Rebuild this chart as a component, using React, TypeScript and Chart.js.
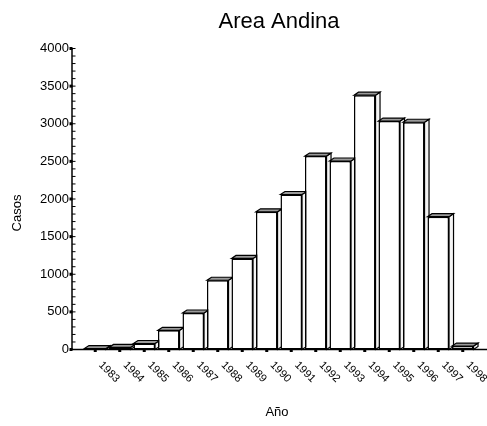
import React, { useEffect, useRef } from "react";
import { Chart, registerables } from "chart.js";

Chart.register(...registerables);

// ---- data ----
const years = ["1983", "1984", "1985", "1986", "1987", "1988", "1989", "1990", "1991", "1992", "1993", "1994", "1995", "1996", "1997", "1998"];
const casos = [12, 28, 80, 255, 485, 920, 1210, 1830, 2060, 2570, 2505, 3380, 3035, 3020, 1765, 45];
const yMin = 0;
const yMax = 4000;
const yStep = 500;
const yMinorStep = 100;
const chartTitle = "Area Andina";
const xTitle = "Año";
const yTitle = "Casos";

const FONT = '"Liberation Sans", Arial, Helvetica, sans-serif';
const DX = 4.5;
const DY = 3;

const plugin3d = {
  id: "plugin3d",
  beforeDatasetsDraw(chart: any) {
    const ctx = chart.ctx;
    const meta = chart.getDatasetMeta(0);
    ctx.save();
    ctx.lineWidth = 1.2;
    ctx.strokeStyle = "#000";
    meta.data.forEach((bar: any) => {
      const { x, y, base, width } = bar.getProps(["x", "y", "base", "width"], true);
      const l = x - width / 2;
      const r = x + width / 2;
      // side face
      ctx.beginPath();
      ctx.moveTo(r, base);
      ctx.lineTo(r + DX, base - DY);
      ctx.lineTo(r + DX, y - DY);
      ctx.lineTo(r, y);
      ctx.closePath();
      ctx.fillStyle = "#f4f4f4";
      ctx.fill();
      ctx.stroke();
      // top face
      ctx.beginPath();
      ctx.moveTo(l, y);
      ctx.lineTo(l + DX, y - DY);
      ctx.lineTo(r + DX, y - DY);
      ctx.lineTo(r, y);
      ctx.closePath();
      ctx.fillStyle = "#9a9a9a";
      ctx.fill();
      ctx.stroke();
    });
    ctx.restore();
  },
  afterDraw(chart: any) {
    const ctx = chart.ctx;
    const area = chart.chartArea;
    const xs = chart.scales.x;
    const ys = chart.scales.y;
    const axisX = area.left - 11;
    const axisY = area.bottom;
    const midX = (area.left + area.right) / 2;
    ctx.save();
    ctx.strokeStyle = "#000";
    ctx.fillStyle = "#000";
    ctx.lineWidth = 1.5;
    // y axis line
    ctx.beginPath();
    ctx.moveTo(axisX, ys.getPixelForValue(yMax));
    ctx.lineTo(axisX, axisY);
    ctx.stroke();
    // x axis line
    ctx.beginPath();
    ctx.moveTo(axisX, axisY);
    ctx.lineTo(chart.width, axisY);
    ctx.stroke();
    // y ticks
    ctx.lineWidth = 1;
    for (let v = yMin; v <= yMax; v += yMinorStep) {
      const py = ys.getPixelForValue(v);
      ctx.beginPath();
      ctx.moveTo(axisX, py);
      ctx.lineTo(axisX + 3.5, py);
      ctx.stroke();
      if (v % yStep === 0) {
        ctx.fillRect(axisX - 2.5, py - 1.5, 3, 3);
      }
    }
    // x tick dots
    years.forEach((_, i) => {
      const px = xs.getPixelForTick(i);
      ctx.fillRect(px - 1.5, axisY, 3, 2.5);
    });
    // x labels rotated
    ctx.font = `11px ${FONT}`;
    ctx.textAlign = "left";
    ctx.textBaseline = "alphabetic";
    years.forEach((label, i) => {
      const px = xs.getPixelForTick(i);
      ctx.save();
      ctx.translate(px + 3, axisY + 16);
      ctx.rotate(Math.PI / 4);
      ctx.fillText(label, 0, 0);
      ctx.restore();
    });
    // title
    ctx.font = `22px ${FONT}`;
    ctx.textAlign = "center";
    ctx.textBaseline = "alphabetic";
    ctx.fillText(chartTitle, midX, 27.5);
    // axis titles
    ctx.font = `13px ${FONT}`;
    ctx.textAlign = "center";
    ctx.textBaseline = "middle";
    ctx.fillText(xTitle, midX - 2, 412);
    ctx.save();
    ctx.translate(17, 213);
    ctx.rotate(-Math.PI / 2);
    ctx.fillText(yTitle, 0, 0);
    ctx.restore();
    ctx.restore();
  },
};

export default function App() {
  const ref = useRef<HTMLCanvasElement | null>(null);
  useEffect(() => {
    document.body.style.margin = "0";
    const canvas = ref.current;
    if (!canvas) return;
    const chart = new Chart(canvas, {
      type: "bar",
      data: {
        labels: years,
        datasets: [
          {
            data: casos,
            backgroundColor: "#ffffff",
            borderColor: "#000000",
            borderWidth: 1.5,
            borderSkipped: false,
            barPercentage: 0.88,
            categoryPercentage: 1.0,
          },
        ],
      },
      options: {
        animation: false,
        responsive: false,
        devicePixelRatio: 1,
        layout: { padding: { left: 0, right: 12, top: 48.5, bottom: 0 } },
        plugins: {
          legend: { display: false },
          tooltip: { enabled: false },
          title: { display: false },
        },
        scales: {
          x: {
            offset: true,
            ticks: { display: false },
            grid: { display: false, drawTicks: false },
            border: { display: false },
            afterFit(s: any) {
              s.height = 76.5;
            },
          },
          y: {
            min: yMin,
            max: yMax,
            ticks: {
              stepSize: yStep,
              color: "#000",
              padding: 14,
              font: { family: FONT, size: 13 },
              callback: (v: any) => String(v),
            },
            grid: { display: false, drawTicks: false },
            border: { display: false },
            afterFit(s: any) {
              s.width = 83;
            },
          },
        },
      },
      plugins: [plugin3d],
    } as any);
    return () => chart.destroy();
  }, []);
  return (
    <div style={{ width: 487, height: 426 }}>
      <canvas ref={ref} width={487} height={426} style={{ display: "block" }} />
    </div>
  );
}
